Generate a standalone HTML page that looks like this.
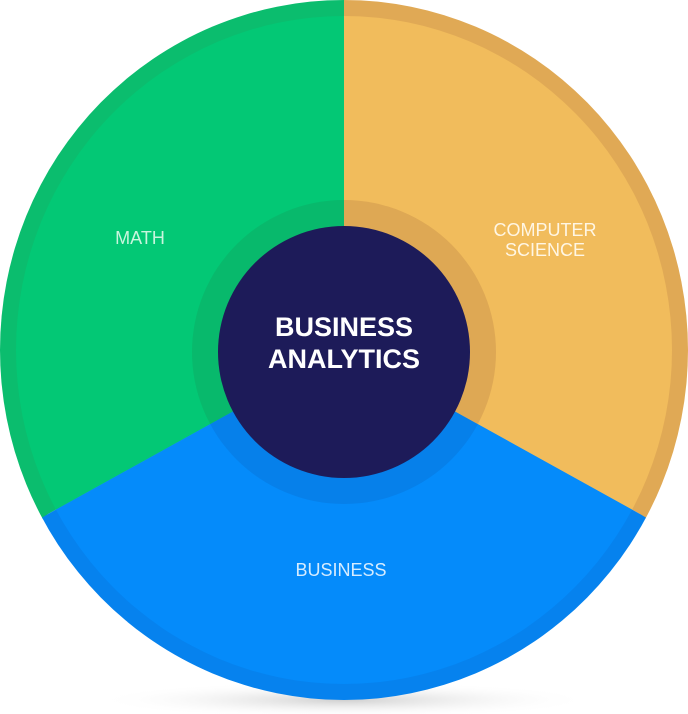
<!DOCTYPE html>
<html><head><style>html,body{margin:0;padding:0;background:#fff;width:688px;height:714px;overflow:hidden}</style></head>
<body>
<svg width="688" height="714" viewBox="0 0 688 714" xmlns="http://www.w3.org/2000/svg">
<defs>
<radialGradient id="sh" cx="50%" cy="50%" r="50%"><stop offset="0" stop-color="#bbb" stop-opacity="0.7"/><stop offset="1" stop-color="#fff" stop-opacity="0"/></radialGradient>
<clipPath id="c"><ellipse cx="344" cy="350" rx="344" ry="350"/></clipPath>
<clipPath id="c2"><ellipse cx="344" cy="350" rx="328" ry="334"/></clipPath>
<clipPath id="c3"><circle cx="344" cy="352" r="152"/></clipPath>
</defs>
<ellipse cx="344" cy="700" rx="250" ry="18" fill="url(#sh)"/>
<g clip-path="url(#c)">
<path d="M344 350 L344 -10 L-10 -10 L-10 570 L48 514 Z" fill="#0bbd6e"/>
<path d="M344 350 L344 -10 L700 -10 L700 570 L640 514 Z" fill="#e0a955"/>
<path d="M344 350 L48 514 L-10 550 L-10 720 L700 720 L700 550 L640 514 Z" fill="#0682ee"/>
</g>
<g clip-path="url(#c2)">
<path d="M344 350 L344 -10 L-10 -10 L-10 570 L48 514 Z" fill="#03c875"/>
<path d="M344 350 L344 -10 L700 -10 L700 570 L640 514 Z" fill="#f1bc5c"/>
<path d="M344 350 L48 514 L-10 550 L-10 720 L700 720 L700 550 L640 514 Z" fill="#058bfa"/>
</g>
<g clip-path="url(#c3)">
<path d="M344 350 L344 -10 L-10 -10 L-10 570 L48 514 Z" fill="#08b96c"/>
<path d="M344 350 L344 -10 L700 -10 L700 570 L640 514 Z" fill="#dea854"/>
<path d="M344 350 L48 514 L-10 550 L-10 720 L700 720 L700 550 L640 514 Z" fill="#0680ea"/>
</g>
<circle cx="344" cy="352" r="126" fill="#1d1b59"/>
<g font-family="Liberation Sans, sans-serif" text-anchor="middle">
<text x="344" y="336" font-size="27" font-weight="bold" fill="#fff">BUSINESS</text>
<text x="344" y="368" font-size="27" font-weight="bold" fill="#fff">ANALYTICS</text>
<text x="140" y="244" font-size="18" fill="#c8f5dd">MATH</text>
<text x="545" y="236" font-size="18" fill="#fff6e4">COMPUTER</text>
<text x="545" y="256" font-size="18" fill="#fff6e4">SCIENCE</text>
<text x="341" y="576" font-size="18" fill="#d6ecff">BUSINESS</text>
</g>
</svg>
</body></html>
